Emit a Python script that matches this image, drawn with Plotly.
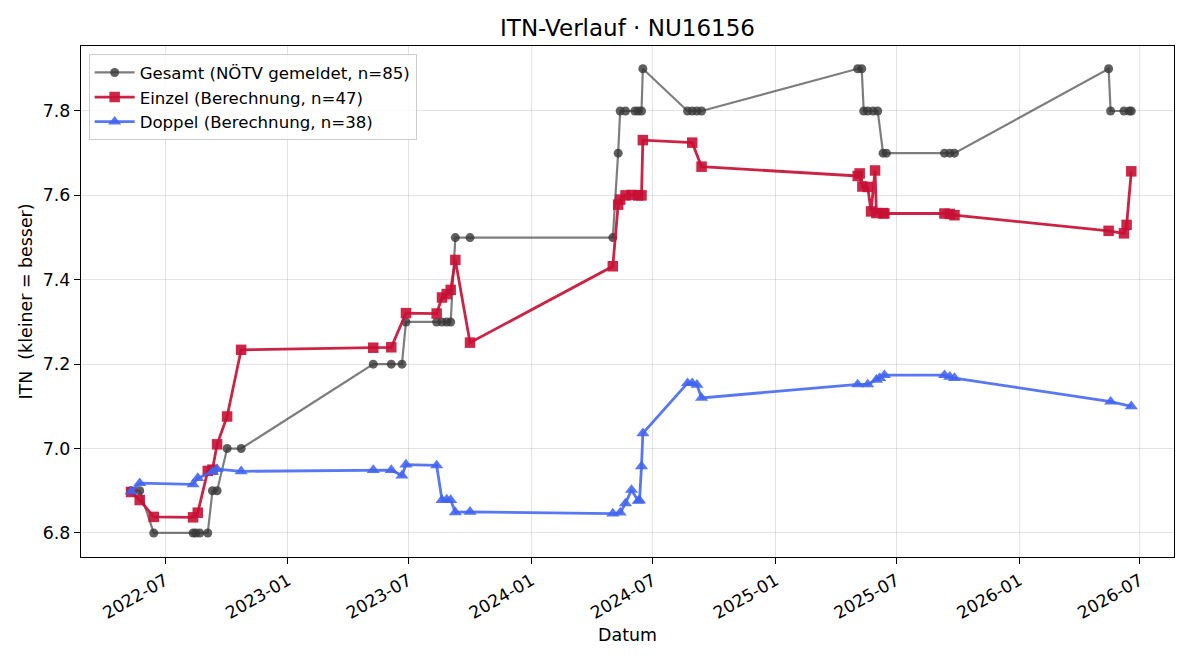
import plotly.graph_objects as go

# ---- data ----
gesamt_dates = ["2022-05-11","2022-05-24","2022-06-14","2022-08-12","2022-08-16","2022-08-22","2022-09-03",
                "2022-09-10","2022-09-17","2022-10-02","2022-10-23","2023-05-09","2023-06-05","2023-06-21",
                "2023-06-27","2023-08-12","2023-08-20","2023-08-27","2023-09-02","2023-09-09","2023-10-01",
                "2024-05-02","2024-05-10","2024-05-13","2024-05-21","2024-06-04","2024-06-09","2024-06-14",
                "2024-06-16","2024-08-22","2024-08-29","2024-09-05","2024-09-12","2025-05-04","2025-05-10",
                "2025-05-13","2025-05-19","2025-05-27","2025-06-03","2025-06-11","2025-06-16","2025-09-11",
                "2025-09-19","2025-09-26","2026-05-15","2026-05-18","2026-06-07","2026-06-15","2026-06-18"]
gesamt_vals = [6.9,6.9,6.8,6.8,6.8,6.8,6.8,
               6.9,6.9,7.0,7.0,7.2,7.2,7.2,
               7.3,7.3,7.3,7.3,7.3,7.5,7.5,
               7.5,7.7,7.8,7.8,7.8,7.8,7.8,
               7.9,7.8,7.8,7.8,7.8,7.9,7.9,
               7.8,7.8,7.8,7.8,7.7,7.7,7.7,
               7.7,7.7,7.9,7.8,7.8,7.8,7.8]

einzel_dates = ["2022-05-11","2022-05-24","2022-06-14","2022-08-12","2022-08-19","2022-09-03","2022-09-10",
                "2022-09-17","2022-10-02","2022-10-23","2023-05-09","2023-06-05","2023-06-27","2023-08-12",
                "2023-08-20","2023-08-27","2023-09-02","2023-09-09","2023-10-01","2024-05-02","2024-05-10",
                "2024-05-13","2024-05-21","2024-05-30","2024-06-09","2024-06-14","2024-06-16","2024-08-29",
                "2024-09-12","2025-05-04","2025-05-07","2025-05-11","2025-05-19","2025-05-24","2025-05-30",
                "2025-06-01","2025-06-11","2025-06-13","2025-09-11","2025-09-19","2025-09-26","2026-05-15",
                "2026-06-07","2026-06-11","2026-06-18"]
einzel_vals = [6.897,6.878,6.838,6.837,6.848,6.947,6.950,
               7.010,7.076,7.234,7.239,7.240,7.321,7.320,
               7.358,7.366,7.376,7.447,7.251,7.432,7.578,
               7.590,7.600,7.601,7.600,7.600,7.731,7.725,
               7.668,7.646,7.652,7.621,7.620,7.562,7.659,
               7.558,7.558,7.557,7.557,7.556,7.553,7.516,
               7.510,7.530,7.657]

doppel_dates = ["2022-05-11","2022-05-24","2022-08-12","2022-08-19","2022-09-10","2022-09-17","2022-10-23",
                "2023-05-09","2023-06-05","2023-06-21","2023-06-27","2023-08-12","2023-08-20","2023-08-27",
                "2023-09-02","2023-09-09","2023-10-01","2024-05-02","2024-05-13","2024-05-21","2024-05-30",
                "2024-06-09","2024-06-11","2024-06-14","2024-06-16","2024-08-22","2024-08-29","2024-09-05",
                "2024-09-12","2025-05-04","2025-05-19","2025-06-01","2025-06-06","2025-06-13","2025-09-11",
                "2025-09-19","2025-09-26","2026-05-18","2026-06-18"]
doppel_vals = [6.898,6.918,6.915,6.930,6.945,6.951,6.946,
               6.949,6.949,6.936,6.962,6.960,6.878,6.879,
               6.878,6.849,6.850,6.846,6.848,6.870,6.902,
               6.876,6.877,6.958,7.036,7.155,7.155,7.151,
               7.120,7.152,7.152,7.163,7.167,7.174,7.174,
               7.170,7.167,7.111,7.100]

title = "ITN-Verlauf · NU16156"
x_label = "Datum"
y_label = "ITN  (kleiner = besser)"

FONT = "DejaVu Sans"

fig = go.Figure()
fig.add_trace(go.Scatter(
    x=gesamt_dates, y=gesamt_vals, mode="lines+markers",
    name="Gesamt (NÖTV gemeldet, n=85)",
    line=dict(color="rgba(64,64,64,0.68)", width=2.2),
    marker=dict(symbol="circle", size=9, color="rgba(55,55,55,0.8)", line=dict(width=0)),
))
fig.add_trace(go.Scatter(
    x=einzel_dates, y=einzel_vals, mode="lines+markers",
    name="Einzel (Berechnung, n=47)",
    line=dict(color="rgba(200,16,52,0.92)", width=2.8),
    marker=dict(symbol="square", size=10.5, color="rgba(200,16,52,0.9)", line=dict(width=0)),
))
fig.add_trace(go.Scatter(
    x=doppel_dates, y=doppel_vals, mode="lines+markers",
    name="Doppel (Berechnung, n=38)",
    line=dict(color="rgba(65,100,240,0.88)", width=2.8),
    marker=dict(symbol="triangle-up", size=11.5, color="rgba(65,100,240,0.88)", line=dict(width=0)),
))

fig.update_layout(
    width=1200, height=660,
    paper_bgcolor="white", plot_bgcolor="white",
    margin=dict(l=81, r=26, t=46, b=103),
    font=dict(family=FONT, size=17, color="black"),
    title=dict(text=title, x=0.5, xref="paper", xanchor="center", y=0.958, yanchor="middle",
               font=dict(family=FONT, size=23, color="black")),
    showlegend=True,
    legend=dict(x=0.007, y=0.984, xanchor="left", yanchor="top",
                bgcolor="rgba(255,255,255,0.85)", bordercolor="#cccccc", borderwidth=1,
                font=dict(family=FONT, size=16.6), tracegroupgap=0, itemwidth=40),
)

fig.update_xaxes(
    type="date", range=["2022-02-25", "2026-08-21"],
    tick0="2022-01-01", dtick="M6", tickformat="%Y-%m", tickangle=-30,
    showgrid=True, gridcolor="rgba(0,0,0,0.11)", gridwidth=1,
    showline=True, linecolor="black", linewidth=1.3, mirror=True,
    ticks="outside", ticklen=6, tickcolor="black", tickwidth=1.2,
    tickfont=dict(family=FONT, size=17.2),
    title=dict(text=x_label, font=dict(family=FONT, size=17.4), standoff=6),
    zeroline=False, automargin=False,
)
fig.update_yaxes(
    range=[6.743, 7.954], tick0=6.8, dtick=0.2, tickformat=".1f",
    showgrid=True, gridcolor="rgba(0,0,0,0.11)", gridwidth=1,
    showline=True, linecolor="black", linewidth=1.3, mirror=True,
    ticks="outside", ticklen=6, tickcolor="black", tickwidth=1.2,
    tickfont=dict(family=FONT, size=17.4),
    title=dict(text=y_label, font=dict(family=FONT, size=17.4), standoff=5),
    zeroline=False, automargin=False,
)

fig.write_html("out.html")
